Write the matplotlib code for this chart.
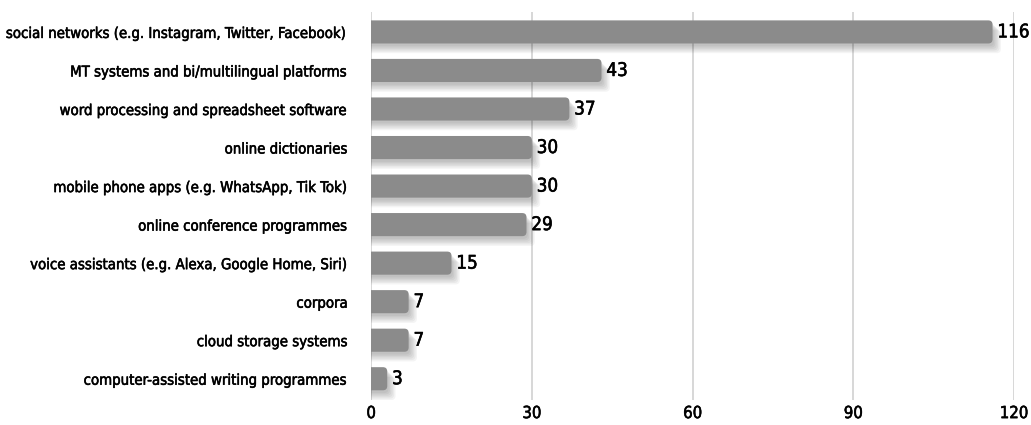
import matplotlib
matplotlib.use('Agg')
import matplotlib.pyplot as plt
import matplotlib.patheffects as pe
from matplotlib.patches import FancyBboxPatch

plt.rcParams['font.family'] = ['DejaVu Sans']
plt.rcParams['font.stretch'] = 'condensed'

categories = [
    'social networks (e.g. Instagram, Twitter, Facebook)',
    'MT systems and bi/multilingual platforms',
    'word processing and spreadsheet software',
    'online dictionaries',
    'mobile phone apps (e.g. WhatsApp, Tik Tok)',
    'online conference programmes',
    'voice assistants (e.g. Alexa, Google Home, Siri)',
    'corpora',
    'cloud storage systems',
    'computer-assisted writing programmes',
]
values = [116, 43, 37, 30, 30, 29, 15, 7, 7, 3]
xticks = [0, 30, 60, 90, 120]

fig = plt.figure(figsize=(10.31, 4.25), dpi=100)
ax = fig.add_axes([0.36, 0.059, 0.6235, 0.913])

y = list(range(len(categories)))
bars = ax.barh(y, values, height=0.6, color='#8b8b8b', zorder=3)

# swap plain bars for ones with rounded ends (left end hidden behind x=0)
shadow = [pe.SimplePatchShadow(offset=(1 + k, -2 - k), shadow_rgbFace='#000000', alpha=0.045)
          for k in range(6)]
r = 0.8
for b in bars:
    b.set_visible(False)
    p = FancyBboxPatch((b.get_x() - 3 * r, b.get_y()), b.get_width() + 3 * r, b.get_height(),
                       boxstyle='round,pad=0,rounding_size=%s' % r,
                       mutation_aspect=0.14, facecolor='#8b8b8b', edgecolor='none', zorder=3)
    p.set_path_effects(shadow + [pe.Normal()])
    ax.add_patch(p)
    p.set_clip_path(ax.patch)

heavy = [pe.withStroke(linewidth=0.4, foreground='black')]
for yi, v in zip(y, values):
    ax.text(v + 0.9, yi, str(v), va='center', ha='left', fontsize=13.5, zorder=4,
            path_effects=heavy)

ax.set_xlim(0, 120)
ax.set_ylim(len(categories) - 0.45, -0.52)
ax.set_yticks(y)
ax.set_yticklabels(categories, fontsize=10.7)
ax.set_xticks(xticks)
ax.set_xticklabels([str(t) for t in xticks], fontsize=12)
for t in ax.get_yticklabels() + ax.get_xticklabels():
    t.set_path_effects(heavy)
ax.tick_params(axis='both', length=0, pad=3)
ax.tick_params(axis='y', pad=16.5)
ax.grid(axis='x', color='#d4d4d4', linewidth=1.3, zorder=0)
for s in ax.spines.values():
    s.set_visible(False)

plt.savefig('out.png', dpi=100)
